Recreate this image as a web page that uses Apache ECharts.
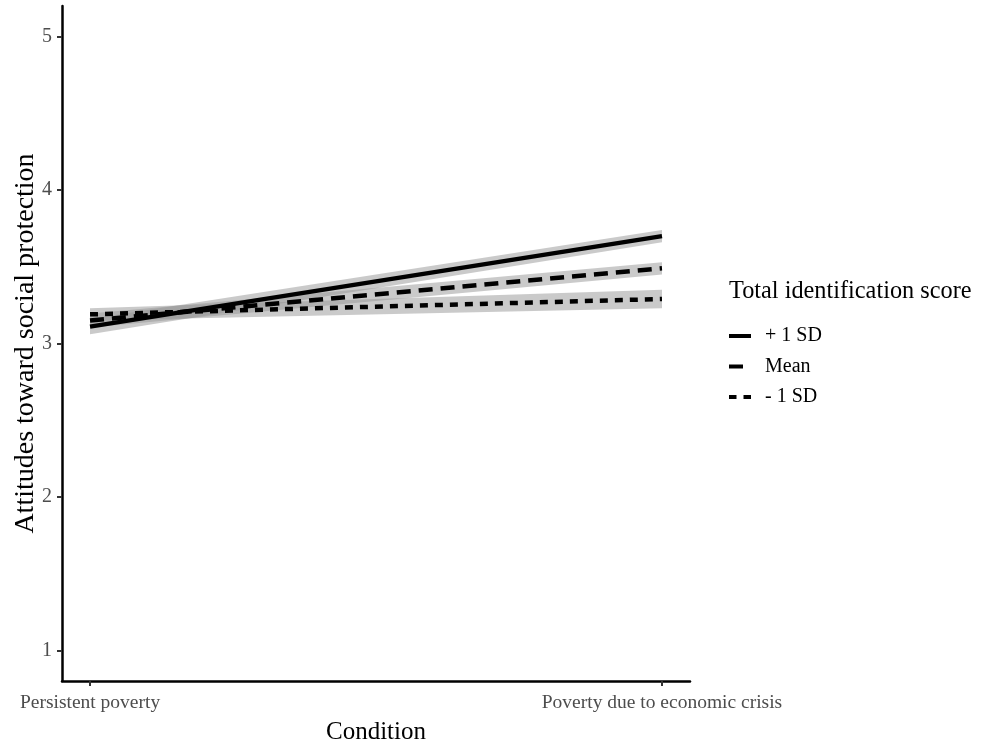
<!DOCTYPE html>
<html>
<head>
<meta charset="utf-8">
<script src="https://cdn.jsdelivr.net/npm/echarts@6/dist/echarts.min.js"></script>
<style>
html,body{margin:0;padding:0;background:#fff;}
#chart{width:987px;height:745px;}
</style>
</head>
<body>
<div id="chart"></div>
<script>
// ---- data ----
var categories = ['Persistent poverty', 'Poverty due to economic crisis'];
var seriesNames = ['+ 1 SD', 'Mean', '- 1 SD'];
var plus1SD = [3.11, 3.70];
var meanVals = [3.15, 3.49];
var minus1SD = [3.19, 3.29];
var plus1SE = [0.05, 0.04];
var meanSE = [0.045, 0.04];
var minus1SE = [0.04, 0.06];
var yTicks = [1, 2, 3, 4, 5];

var chart = echarts.init(document.getElementById('chart'));
var FONT = '"Liberation Serif", "Times New Roman", serif';

function pts(vals) {
  return vals.map(function (v, i) { return [i + 1, v]; });
}
function bandData(vals, se) {
  return [[vals[0] - se[0], vals[0] + se[0], vals[1] - se[1], vals[1] + se[1]]];
}
var bands = bandData(plus1SD, plus1SE).concat(bandData(meanVals, meanSE), bandData(minus1SD, minus1SE));

var dashTypes = ['solid', [14, 8], [8, 7]];
var legendIcons = [
  'path://M0,0H22V4H0Z',
  'path://M0,0H14V4H0ZM21.9,3.9H22V4H21.9Z',
  'path://M0,0H7.5V4H0ZM14.5,0H22V4H14.5Z'
];
var lineSeries = [plus1SD, meanVals, minus1SD].map(function (vals, k) {
  return {
    name: seriesNames[k],
    type: 'line',
    data: pts(vals),
    symbol: 'none',
    z: 5,
    lineStyle: { color: '#000', width: 4.5, type: dashTypes[k], cap: 'butt' },
    itemStyle: { color: '#000' },
    emphasis: { disabled: true }
  };
});

var option = {
  animation: false,
  backgroundColor: '#fff',
  grid: { left: 62, right: 297, top: 6, bottom: 64, containLabel: false, outerBoundsMode: 'none' },
  xAxis: {
    type: 'value',
    min: 0.951,
    max: 2.049,
    splitLine: { show: false },
    axisLine: { show: true, lineStyle: { color: '#000', width: 2.5 } },
    axisTick: { show: true, length: 5, lineStyle: { color: '#333', width: 2 }, customValues: [1, 2] },
    axisLabel: {
      show: true,
      customValues: [1, 2],
      formatter: function (v) { return categories[Math.round(v) - 1] || ''; },
      color: '#4d4d4d', fontFamily: FONT, fontSize: 19.5, margin: 12
    },
    name: 'Condition',
    nameLocation: 'middle',
    nameGap: 39,
    nameMoveOverlap: false,
    nameTextStyle: { color: '#000', fontFamily: FONT, fontSize: 25 }
  },
  yAxis: {
    type: 'value',
    min: 0.8,
    max: 5.2,
    splitLine: { show: false },
    axisLine: { show: true, lineStyle: { color: '#000', width: 2.5 } },
    axisTick: { show: true, length: 5, lineStyle: { color: '#333', width: 2 }, customValues: yTicks },
    axisLabel: {
      show: true,
      customValues: yTicks,
      color: '#4d4d4d', fontFamily: FONT, fontSize: 20, margin: 10
    },
    name: 'Attitudes toward social protection',
    nameLocation: 'middle',
    nameGap: 22,
    nameMoveOverlap: false,
    nameTextStyle: { color: '#000', fontFamily: FONT, fontSize: 28 }
  },
  legend: {
    left: 729,
    top: 326,
    orient: 'vertical',
    data: seriesNames.map(function (n, k) { return { name: n, icon: legendIcons[k] }; }),
    itemWidth: 22,
    itemHeight: 4,
    itemGap: 10.5,
    padding: 0,
    itemStyle: { color: '#000', borderWidth: 0 },
    textStyle: { color: '#000', fontFamily: FONT, fontSize: 20, padding: [0, 0, 0, 9] },
    selectedMode: false
  },
  graphic: [{
    type: 'text',
    left: 729,
    top: 280,
    style: { text: 'Total identification score', fontFamily: FONT, fontSize: 24.3, fill: '#000' }
  }],
  series: [{
    type: 'custom',
    name: 'bands',
    data: bands,
    z: 2,
    silent: true,
    renderItem: function (params, api) {
      var p1 = api.coord([1, api.value(0)]);
      var p2 = api.coord([1, api.value(1)]);
      var p3 = api.coord([2, api.value(3)]);
      var p4 = api.coord([2, api.value(2)]);
      return {
        type: 'polygon',
        shape: { points: [p1, p2, p3, p4] },
        style: { fill: 'rgba(150,150,150,0.5)' }
      };
    }
  }].concat(lineSeries)
};
chart.setOption(option);
</script>
</body>
</html>
